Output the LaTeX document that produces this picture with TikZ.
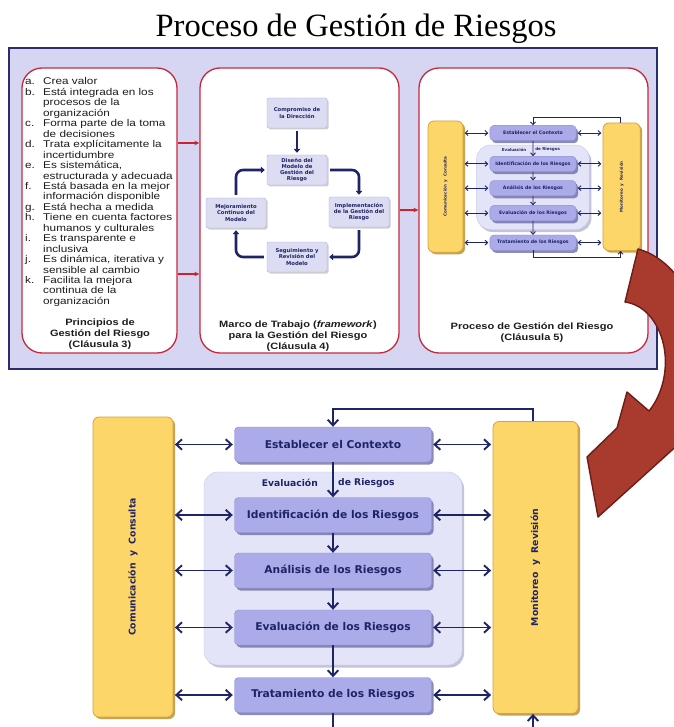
\documentclass[tikz,border=0pt]{standalone}
\usepackage{fontspec}
\setmainfont{Liberation Serif}
\newfontfamily\listfont[FakeStretch=1.2]{Liberation Sans}
\newfontfamily\stagefont{DejaVu Sans}
\usetikzlibrary{arrows.meta,shadows}

\definecolor{pagebg}{HTML}{D6D6F3}
\definecolor{frameedge}{HTML}{2B2D6E}
\definecolor{panelred}{HTML}{C8283C}
\definecolor{arrowred}{HTML}{D0202E}
\definecolor{navy}{HTML}{1E2466}
\definecolor{boxfill}{HTML}{ABABEA}
\definecolor{boxedge}{HTML}{8C8CCF}
\definecolor{boxshade}{HTML}{6E6EA6}
\definecolor{groupfill}{HTML}{E4E4F8}
\definecolor{groupedge}{HTML}{C6C6E6}
\definecolor{groupshade}{HTML}{B4B4D2}
\definecolor{barfill}{HTML}{FDD66A}
\definecolor{baredge}{HTML}{D4A437}
\definecolor{barshade}{HTML}{B98A2C}
\definecolor{cyclefill}{HTML}{DCDCF3}
\definecolor{bigred}{HTML}{A83A2E}
\definecolor{bigrededge}{HTML}{6E1C16}
\definecolor{listgray}{HTML}{1C1C1C}

% The risk management process (ISO 31000, clause 5), drawn in local
% coordinates around the top feedback line; #1 = name prefix, #2 = line width
\newcommand{\riskprocess}[2]{%
  \tikzset{flowline/.style={draw=navy, line width=#2},
           flow/.style={flowline, -{Straight Barb[length=0pt 3, width=0pt 5.5]}},
           flowboth/.style={flowline,
             {Straight Barb[length=0pt 3, width=0pt 5.5]}-{Straight Barb[length=0pt 3, width=0pt 5.5]},
             shorten <=1.5pt, shorten >=1.5pt}}%
  \node[grp, minimum width=258, minimum height=193] (#1G) at (0,159.5) {};
  \node[bar, minimum width=80, minimum height=300] (#1L) at (-200,158) {};
  \node[bar, minimum width=85, minimum height=292] (#1R) at (202.5,158.5) {};
  \node[bartext] (#1Lt) at (#1L) {Comunicación\hspace{0.35em} y\hspace{0.35em} Consulta};
  \node[bartext] (#1Rt) at (#1R) {Monitoreo\hspace{0.35em} y\hspace{0.35em} Revisión};
  \node[stage] (#1E) at (0,35.5) {Establecer el Contexto};
  \node[stage] (#1I) at (0,106) {Identificación de los Riesgos};
  \node[stage] (#1A) at (0,161.5) {Análisis de los Riesgos};
  \node[stage] (#1V) at (0,218.5) {Evaluación de los Riesgos};
  \node[stage] (#1T) at (0,286) {Tratamiento de los Riesgos};
  \node[grplabel, anchor=east] (#1Ga) at (-15,74) {Evaluación};
  \node[grplabel, anchor=west] (#1Gb) at (5,74) {de Riesgos};
  \coordinate (#1top) at (0,0);
  \coordinate (#1up) at (200,0);
  \coordinate (#1bot) at (0,320);
  \coordinate (#1dn) at (200,320);
  % stage sequence
  \draw[flow] (#1E) -- (#1I);
  \draw[flow] (#1I) -- (#1A);
  \draw[flow] (#1A) -- (#1V);
  \draw[flow] (#1V) -- (#1T);
  % communication and monitoring links
  \foreach \s in {E,I,A,V,T}{%
    \draw[flowboth] (#1L.east |- #1\s) -- (#1\s.west);
    \draw[flowboth] (#1\s.east) -- (#1R.west |- #1\s);
  }
  % feedback loops through monitoring
  \draw[flow] (#1R.north -| #1up) -- (#1up) -- (#1top) -- (#1E.north);
  \draw[flow] (#1T.south) -- (#1bot) -- (#1dn) -- (#1R.south -| #1dn);
}

\begin{document}
\begin{tikzpicture}[x=1pt,y=-1pt,
  frame/.style={draw=frameedge, fill=pagebg, line width=1.4, inner sep=0},
  panel/.style={draw=panelred, fill=white, line width=1.3, rounded corners=20,
    minimum height=285, inner sep=0},
  redlink/.style={draw=arrowred, line width=1.1, -{Stealth[length=5pt,width=4.5pt]}},
  listtext/.style={font=\listfont\fontsize{9.8}{10.45}\selectfont, text=listgray, inner sep=0},
  foot/.style={font=\listfont\bfseries\fontsize{9.2}{11}\selectfont, text=listgray,
    align=center, inner sep=0},
  cycbox/.style={draw=boxedge!70, fill=cyclefill, rounded corners=2, minimum width=60,
    minimum height=30, inner sep=1, align=center, text=navy,
    font=\stagefont\bfseries\fontsize{5.3}{6.2}\selectfont,
    drop shadow={shadow xshift=1.5pt, shadow yshift=-1.5pt, fill=gray!60, opacity=0.6}},
  cycarrow/.style={draw=navy, line width=2.6, rounded corners=7,
    -{Triangle[length=4pt,width=6.5pt]}, shorten <=3pt, shorten >=2pt},
  stage/.style={draw=boxedge, fill=boxfill, rounded corners=4, minimum width=197,
    minimum height=35, inner sep=0, text=navy,
    font=\stagefont\bfseries\fontsize{10.7}{12}\selectfont,
    drop shadow={shadow xshift=2pt, shadow yshift=-2.5pt, fill=boxshade, opacity=0.8}},
  bar/.style={draw=baredge, fill=barfill, rounded corners=6, line width=0.8, inner sep=0,
    drop shadow={shadow xshift=2pt, shadow yshift=-2pt, fill=barshade, opacity=0.8}},
  bartext/.style={rotate=90, inner sep=0, text=navy,
    font=\stagefont\bfseries\fontsize{9.3}{11}\selectfont},
  grp/.style={draw=groupedge, fill=groupfill, rounded corners=14, inner sep=0,
    drop shadow={shadow xshift=2pt, shadow yshift=-2.5pt, fill=groupshade, opacity=0.8}},
  grplabel/.style={inner sep=0, text=navy, font=\stagefont\bfseries\fontsize{9.2}{11}\selectfont},
]
\fill[white, use as bounding box] (0,0) rectangle (673,727);

% title
\node[font=\fontsize{32.5}{36}\selectfont, anchor=base, inner sep=0] (title) at (356,37)
  {Proceso de Gestión de Riesgos};

% framework of the standard: three clauses
\node[frame, minimum width=648, minimum height=321] (frame) at (333,208.5) {};
\node[panel, minimum width=155] (P1) at (99.5,210.5) {};
\node[panel, minimum width=199] (P2) at (299.5,210.5) {};
\node[panel, minimum width=229] (P3) at (533.5,210.5) {};

% clause 3: principles
\node[listtext, anchor=base west] (principles) at (25,85) {%
\begin{tabular}[t]{@{}p{18pt}@{}l@{}}
a. & Crea valor\\
b. & Está integrada en los\\
   & procesos de la\\
   & organización\\
c. & Forma parte de la toma\\
   & de decisiones\\
d. & Trata explícitamente la\\
   & incertidumbre\\
e. & Es sistemática,\\
   & estructurada y adecuada\\
f. & Está basada en la mejor\\
   & información disponible\\
g. & Está hecha a medida\\
h. & Tiene en cuenta factores\\
   & humanos y culturales\\
i. & Es transparente e\\
   & inclusiva\\
j. & Es dinámica, iterativa y\\
   & sensible al cambio\\
k. & Facilita la mejora\\
   & continua de la\\
   & organización
\end{tabular}};
\node[foot] (P1foot) at (100,334) {Principios de\\Gestión del Riesgo\\(Cláusula 3)};

% clause 4: framework cycle
\node[cycbox] (Comp) at (297,113) {Compromiso de\\la Dirección};
\node[cycbox] (Dis) at (297,170) {Diseño del\\Modelo de\\Gestión del\\Riesgo};
\node[cycbox] (Mej) at (236,213) {Mejoramiento\\Continuo del\\Modelo};
\node[cycbox] (Imp) at (359,212) {Implementación\\de la Gestión del\\Riesgo};
\node[cycbox] (Seg) at (297,257) {Seguimiento y\\Revisión del\\Modelo};
\draw[cycarrow] (Comp) -- (Dis);
\draw[cycarrow] (Dis.east) -| (Imp.north);
\draw[cycarrow] (Imp.south) |- (Seg.east);
\draw[cycarrow] (Seg.west) -| (Mej.south);
\draw[cycarrow] (Mej.north) |- (Dis.west);
\node[foot] (P2foot) at (298,336)
  {Marco de Trabajo (\textit{framework})\\para la Gestión del Riesgo\\(Cláusula 4)};

% clause 5: process, small version
\begin{scope}[shift={(533,117.5)}, scale=0.4375, transform shape]
  \riskprocess{s}{0.9pt}
\end{scope}
\node[foot] (P3foot) at (532,332.5) {Proceso de Gestión del Riesgo\\(Cláusula 5)};

% links between clauses
\coordinate (r1) at (0,143);
\coordinate (r2) at (0,274);
\coordinate (r3) at (0,210);
\draw[redlink] (P1.east |- r1) -- (P2.west |- r1);
\draw[redlink] (P1.east |- r2) -- (P2.west |- r2);
\draw[redlink] (P2.east |- r3) -- (P3.west |- r3);

% clause 5: process, enlarged
\begin{scope}[shift={(333,409)}]
  \riskprocess{b}{1.9pt}
\end{scope}

% curved arrow leading to the enlarged process
\draw[fill=bigred, draw=bigrededge, line width=1.4, line join=round]
  (638,249) .. controls (672,258) and (703,300) .. (706,360)
  .. controls (708,395) and (700,415) .. (692,432)
  -- (598,517) -- (587,457) -- (617,428) -- (627,392) -- (649,411)
  .. controls (670,385) and (672,340) .. (648,314)
  .. controls (640,306) and (632,303) .. (625,302)
  -- cycle;
\end{tikzpicture}
\end{document}
